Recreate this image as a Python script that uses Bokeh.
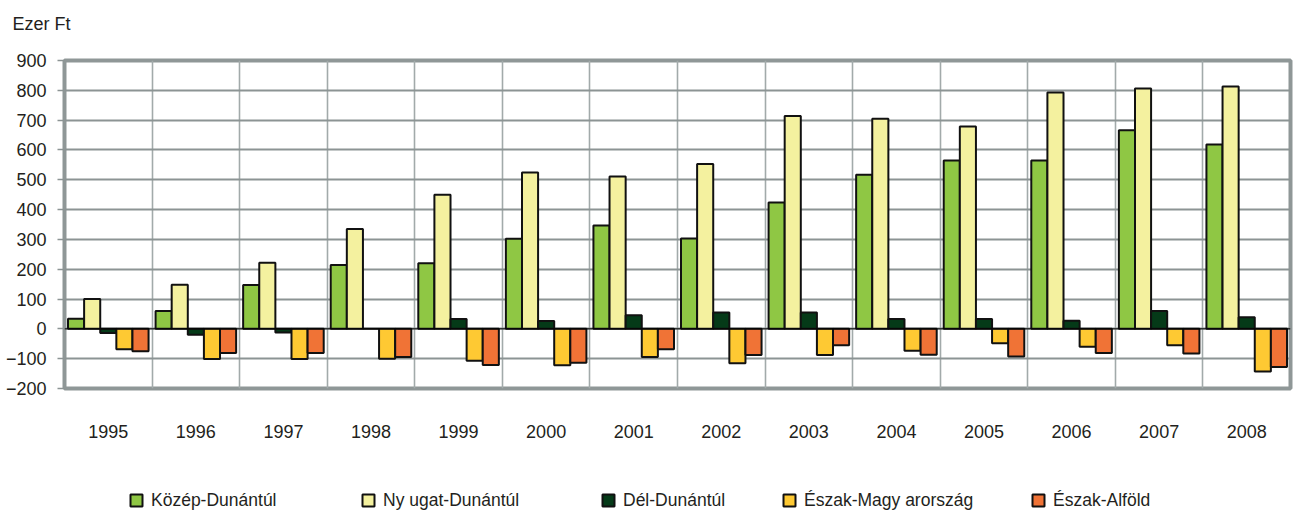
from bokeh.plotting import figure
from bokeh.layouts import column
from bokeh.models import (Range1d, FixedTicker, Span, Legend, LegendItem, ColumnDataSource)
from bokeh.embed import file_html
from bokeh.resources import INLINE

years = ["1995", "1996", "1997", "1998", "1999", "2000", "2001",
         "2002", "2003", "2004", "2005", "2006", "2007", "2008"]
series_names = ["Közép-Dunántúl", "Ny ugat-Dunántúl", "Dél-Dunántúl",
                "Észak-Magy arország", "Észak-Alföld"]
kozep_dunantul = [34, 60, 147, 214, 220, 302, 347, 303, 424, 517, 565, 565, 666, 618]
nyugat_dunantul = [100, 148, 222, 335, 450, 524, 511, 553, 714, 705, 679, 793, 806, 813]
del_dunantul = [-14, -20, -12, 0, 33, 26, 46, 55, 55, 33, 33, 27, 60, 39]
eszak_magyarorszag = [-68, -101, -101, -100, -107, -122, -94, -115, -88, -73, -48, -60, -55, -143]
eszak_alfold = [-75, -81, -81, -94, -121, -114, -68, -88, -55, -87, -93, -81, -83, -128]
y_ticks = [-200, -100, 0, 100, 200, 300, 400, 500, 600, 700, 800, 900]

series = [kozep_dunantul, nyugat_dunantul, del_dunantul, eszak_magyarorszag, eszak_alfold]
colors = ["#8fc744", "#f4f19f", "#053a18", "#fec933", "#f07336"]

FONT = "Liberation Sans"

p = figure(width=1294, height=470, output_backend="svg", toolbar_location=None,
           x_range=Range1d(0, len(years)), y_range=Range1d(-200, 900),
           min_border_left=64, min_border_right=4, min_border_top=60,
           min_border_bottom=82)

p.outline_line_color = "#8f9797"
p.outline_line_width = 4
p.background_fill_color = "white"
p.border_fill_color = "white"

bar_w = 0.184
offsets = [-2 * bar_w, -bar_w, 0, bar_w, 2 * bar_w]
sources = []
for vals, col, off in zip(series, colors, offsets):
    xs = [i + 0.5 + off for i in range(len(years))]
    src = ColumnDataSource(dict(x=xs, top=vals, bottom=[0] * len(vals)))
    sources.append(src)
    p.vbar(x="x", top="top", bottom="bottom", width=bar_w, source=src,
           fill_color=col, line_color="#111111", line_width=2)

p.add_layout(Span(location=0, dimension="width", line_color="black", line_width=1))

# grid
p.xgrid.ticker = FixedTicker(ticks=list(range(1, len(years))))
p.xgrid.grid_line_color = "#a2aaaa"
p.xgrid.grid_line_width = 1.6
p.ygrid.ticker = FixedTicker(ticks=y_ticks)
p.ygrid.grid_line_color = "#8c9494"
p.ygrid.grid_line_width = 1.8

# y axis
p.yaxis.ticker = FixedTicker(ticks=y_ticks)
p.yaxis.axis_line_color = None
p.yaxis.major_tick_out = 7
p.yaxis.major_tick_in = 0
p.yaxis.major_tick_line_color = "#8c9494"
p.yaxis.major_tick_line_width = 1.5
p.yaxis.minor_tick_line_color = None
p.yaxis.major_label_text_font = FONT
p.yaxis.major_label_text_font_size = "18px"
p.yaxis.major_label_text_color = "#231f20"
p.yaxis.major_label_standoff = 11

# x axis
p.xaxis.ticker = FixedTicker(ticks=[i + 0.5 for i in range(len(years))])
p.xaxis.major_label_overrides = {i + 0.5: y for i, y in enumerate(years)}
p.xaxis.axis_line_color = None
p.xaxis.major_tick_line_color = None
p.xaxis.minor_tick_line_color = None
p.xaxis.major_label_text_font = FONT
p.xaxis.major_label_text_font_size = "18px"
p.xaxis.major_label_text_color = "#231f20"
p.xaxis.major_label_standoff = 30

# title
p.title.text = "Ezer Ft\n "
p.title.align = "left"
p.title.vertical_align = "top"
p.title.offset = -52
p.title.text_font = FONT
p.title.text_font_size = "18px"
p.title.text_line_height = 1.0
p.title.text_font_style = "normal"
p.title.text_color = "#231f20"

# legend strip below the chart (its frame is aligned with the chart frame)
lf = figure(width=1294, height=44, output_backend="svg", toolbar_location=None,
            x_range=Range1d(0, 1), y_range=Range1d(5000, 6000),
            min_border=0, outline_line_color=None)
lf.axis.visible = False
lf.grid.visible = False
legend_x = [130, 362, 602, 783, 1032]
GB = 30  # glyph box; square marker is 0.4 of it
for name, col, lx, src in zip(series_names, colors, legend_x, sources):
    r = lf.scatter(x="x", y="top", source=src, marker="square", size=12,
                   fill_color=col, line_color="#111111", line_width=2)
    lg = Legend(items=[LegendItem(label=name, renderers=[r])],
                location=(lx - 64 - 0.3 * GB, 14 - GB / 2), orientation="horizontal",
                padding=0, margin=0, border_line_color=None,
                background_fill_alpha=0, glyph_width=GB, glyph_height=GB,
                label_standoff=0, label_text_font=FONT,
                label_text_font_size="17.5px", label_text_color="#231f20")
    lf.add_layout(lg, "center")

layout = column(p, lf, spacing=0)
open("out.html", "w").write(file_html(layout, INLINE))
